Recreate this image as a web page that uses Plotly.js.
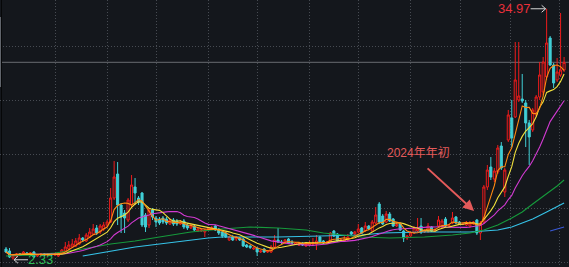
<!DOCTYPE html>
<html><head><meta charset="utf-8">
<script src="https://cdn.plot.ly/plotly-3.0.1.min.js"></script>
<style>html,body{margin:0;padding:0;background:#14171c;}#chart{width:569px;height:267px;}</style>
</head><body><div id="chart"></div>
<script>
const openP = [3.73,3.47,2.56,2.82,3.08,3.08,3.21,3.08,3.34,2.82,2.95,3.08,2.95,3.08,2.95,2.82,3.21,3.47,3.73,3.99,
4.12,4.38,5.16,4.77,5.29,5.68,6.46,5.94,6.33,6.85,7.24,10.36,13.48,9.45,8.41,7.50,9.45,11.79,10.36,11.01,
8.15,6.85,8.80,7.76,7.63,7.76,7.63,6.98,7.50,7.37,6.98,7.37,6.85,6.46,6.72,6.07,6.07,5.94,6.33,6.33,
6.72,6.33,5.94,5.81,4.90,5.29,5.03,5.16,5.03,4.25,4.12,3.73,3.86,3.34,3.73,3.34,3.34,3.99,4.90,4.64,
4.51,5.03,4.64,4.38,4.25,4.51,4.12,4.25,4.38,4.38,5.29,4.77,4.51,4.64,6.07,5.68,4.77,4.77,4.90,5.94,
5.68,5.94,6.46,6.07,6.72,6.07,7.11,9.58,8.02,7.24,8.28,7.63,6.72,6.98,6.07,5.16,5.42,5.81,6.07,6.72,
5.94,6.07,6.59,6.07,6.72,6.59,7.63,6.72,7.11,7.89,7.24,6.91,6.85,6.72,6.98,7.50,5.81,7.24,11.79,14.39,
12.83,13.74,17.12,11.14,17.90,20.77,20.90,23.11,23.24,22.72,20.12,19.21,21.16,23.50,24.15,26.10,31.17,27.66,25.71,26.36,
27.01];
const highP = [3.99,3.86,3.08,3.21,3.21,3.47,3.34,3.34,3.47,3.08,3.21,3.21,3.21,3.21,3.21,3.21,3.73,4.64,4.77,5.03,
5.16,5.68,5.29,5.81,6.46,6.98,6.85,6.98,7.24,7.50,11.66,15.17,15.04,9.71,8.80,10.36,13.35,12.96,10.62,11.14,
8.41,9.06,9.06,8.02,7.89,8.02,7.89,7.76,7.76,7.63,7.50,7.63,7.11,6.98,6.98,6.46,6.33,6.33,6.59,6.72,
6.85,6.46,6.07,5.94,5.42,5.55,5.42,5.29,5.16,4.38,4.25,3.99,3.99,3.60,3.86,3.60,4.25,5.55,6.46,4.90,
5.03,5.16,4.90,4.64,4.64,4.64,4.51,4.77,5.16,5.55,5.42,4.90,4.77,5.94,6.20,5.81,5.03,5.42,5.68,6.07,
6.07,6.98,6.59,7.24,6.85,7.50,9.19,9.84,8.28,8.67,8.54,7.76,7.11,7.11,6.20,5.55,6.07,6.72,7.76,7.76,
6.33,7.11,6.72,6.46,8.02,7.63,7.89,6.98,8.54,8.02,7.37,7.11,7.37,7.37,7.37,7.63,7.37,12.05,14.65,15.69,
14.26,17.25,17.64,14.26,21.81,23.11,30.65,30.65,26.49,23.11,20.51,22.07,23.76,28.05,28.70,34.97,31.43,27.92,28.57,34.42,
28.70];
const lowP = [3.21,2.56,2.33,2.69,2.82,2.95,2.95,2.95,2.56,2.69,2.82,2.82,2.82,2.82,2.82,2.69,3.08,3.34,3.60,3.86,
3.99,4.25,4.64,4.64,5.16,5.55,5.55,5.68,6.07,6.59,7.11,10.10,6.85,5.81,5.81,7.24,9.19,9.45,9.45,6.59,
5.94,6.46,7.50,6.59,6.85,6.98,6.85,6.85,6.72,6.72,6.85,6.33,6.20,6.33,6.07,5.94,5.94,5.29,6.20,6.20,
6.07,5.55,5.16,5.16,4.77,4.77,4.77,4.77,3.99,3.86,3.73,3.60,2.82,3.21,3.21,3.21,3.21,3.86,4.51,4.38,
4.38,4.38,4.38,4.25,4.12,4.12,3.99,4.12,4.25,3.60,4.51,4.38,4.38,4.51,5.29,4.64,4.64,4.64,4.77,5.55,
5.55,5.81,5.68,5.94,6.20,5.94,6.98,6.98,6.85,7.11,7.24,6.59,6.59,6.07,4.64,4.90,5.29,5.68,5.94,5.68,
5.81,5.81,5.94,5.94,6.59,6.46,6.59,6.59,6.98,6.98,6.85,6.85,6.72,6.46,6.85,5.55,4.90,6.98,11.40,12.70,
12.44,13.48,14.00,10.49,17.64,16.99,20.77,22.85,22.72,16.99,14.65,18.95,20.90,23.11,23.76,25.71,27.53,24.67,25.45,26.10,
26.75];
const closeP = [3.34,2.69,2.95,3.08,2.95,3.34,3.08,3.21,2.69,2.95,3.08,2.95,3.08,2.95,3.08,3.08,3.60,3.99,4.25,4.38,
4.77,5.16,4.90,5.55,5.94,6.33,5.81,6.72,6.85,7.24,10.36,13.09,9.45,7.89,7.76,10.10,12.05,11.01,9.84,6.85,
6.59,8.80,7.89,7.24,7.11,7.24,7.11,7.50,6.98,6.98,7.24,6.59,6.46,6.72,6.20,6.33,6.20,6.20,6.39,6.46,
6.20,5.81,5.42,5.29,5.29,4.90,5.29,4.90,4.12,3.99,3.93,3.86,3.34,3.47,3.34,3.47,3.99,4.90,4.64,4.58,
4.90,4.51,4.51,4.51,4.51,4.25,4.38,4.51,4.51,4.77,4.64,4.51,4.64,5.81,5.42,4.77,4.90,5.03,5.29,5.68,
5.94,6.33,5.81,6.72,6.33,7.24,8.15,7.24,6.98,8.28,7.37,6.72,6.91,6.20,5.16,5.42,5.81,6.46,6.33,5.94,
6.20,6.72,6.07,6.20,7.50,7.37,6.72,6.85,7.76,7.11,6.98,6.98,7.11,7.11,7.24,5.81,7.11,11.79,14.00,13.09,
13.87,16.86,14.26,14.00,21.16,18.17,25.71,23.63,22.98,20.12,18.30,21.81,23.50,26.36,28.05,30.52,27.66,25.32,26.75,27.01,
28.00];

const ma60Idx = [0,8,14,22,30,37,44,53,62,70,78,86,91,96,102,110,120,128,133,137,141,145,148,151,155,158,160];
const ma60Val = [2.82,2.95,3.21,3.73,4.38,4.77,5.29,5.94,6.33,6.59,6.46,6.20,5.81,5.55,5.29,5.16,5.29,5.55,5.81,6.20,6.85,7.76,8.54,9.58,10.88,11.92,12.70];
const ma120Idx = [22,30,37,44,53,58,62,78,90,102,108,120,133,137,141,145,148,151,155,158,160];
const ma120Val = [2.82,3.47,3.99,4.38,4.90,5.16,5.29,5.29,5.42,5.55,5.81,5.94,5.94,6.07,6.20,6.59,7.11,7.63,8.54,9.19,9.71];
const ma250Idx = [156,158,160];
const ma250Val = [6.07,6.33,6.59];

const gridIdx = [14.1,29,43.1,58,72,87,101.1,115.9,130.2,144.5,158.8];
const gridPrice0 = 2, gridPriceStep = 7;
const noteText = '2024年年初';
const noteIdx = 108.9, notePrice = 16.21;
const noteArrowIdx = 134.2, noteArrowPrice = 8.67;

const BG = '#14171c';
const GRID = '#474b52';
const RED = '#ee1c1c';
const CYAN = '#40cfd6';

const idx = closeP.map((_, i) => i);
function movingAverage(vals, n) {
  return vals.map((_, i) => {
    const s = Math.max(0, i - n + 1);
    let sum = 0;
    for (let k = s; k <= i; k++) sum += vals[k];
    return sum / (i - s + 1);
  });
}

let maxIdx = 0, minIdx = 0;
highP.forEach((v, i) => { if (v > highP[maxIdx]) maxIdx = i; });
lowP.forEach((v, i) => { if (v < lowP[minIdx]) minIdx = i; });
const lastClose = closeP[closeP.length - 1];

function line(x, y, color, w) {
  return {type: 'scatter', mode: 'lines', x: x, y: y, line: {color: color, width: w || 1.1}, hoverinfo: 'skip'};
}

const traces = [
  {
    type: 'candlestick', x: idx, open: openP, high: highP, low: lowP, close: closeP,
    increasing: {line: {color: RED, width: 1}, fillcolor: BG},
    decreasing: {line: {color: CYAN, width: 1}, fillcolor: CYAN},
    whiskerwidth: 0, hoverinfo: 'skip'
  },
  line(ma120Idx, ma120Val, '#36c3e8'),
  line(ma60Idx, ma60Val, '#169a3c'),
  line(ma250Idx, ma250Val, '#3a5ad8'),
  line(idx, movingAverage(closeP, 20), '#d23ad2'),
  line(idx, movingAverage(closeP, 10), '#f2e23c'),
  line(idx, movingAverage(closeP, 5), '#ff8a12')
];

const NUMFONT = '"Liberation Sans", Arial, sans-serif';

const layout = {
  width: 569, height: 267,
  margin: {l: 0, r: 0, t: 0, b: 0, pad: 0},
  paper_bgcolor: BG, plot_bgcolor: BG,
  showlegend: false, hovermode: false, boxgap: 0.15,
  xaxis: {
    range: [-1.72, 161.41], tickmode: 'array', tickvals: gridIdx, showticklabels: false, ticks: '',
    showgrid: true, gridcolor: GRID, griddash: '1px,2px', gridwidth: 1,
    zeroline: false, showline: false, rangeslider: {visible: false}, fixedrange: true
  },
  yaxis: {
    range: [1.388, 36.11], tickmode: 'linear', tick0: gridPrice0, dtick: gridPriceStep,
    showticklabels: false, ticks: '', showgrid: true, gridcolor: GRID, griddash: '1px,2px', gridwidth: 1,
    zeroline: false, showline: false, fixedrange: true
  },
  shapes: [
    {type: 'line', xref: 'paper', x0: 0, x1: 1, yref: 'y', y0: lastClose, y1: lastClose,
     line: {color: '#575a5f', width: 1.2}, layer: 'below'},
    {type: 'rect', xref: 'paper', yref: 'paper', x0: 1/569, x1: 2/569, y0: 0, y1: 1,
     fillcolor: '#060708', line: {width: 0}},
    {type: 'rect', xref: 'paper', yref: 'paper', x0: 0, x1: 1/569, y0: 1 - 87/267, y1: 1 - 17/267,
     fillcolor: '#60646b', line: {width: 0}},
    {type: 'path', xref: 'x', yref: 'y', xsizemode: 'pixel', ysizemode: 'pixel',
     xanchor: maxIdx, yanchor: highP[maxIdx],
     path: 'M-16,0 L-1,0 M-5,3.5 L-1,0 L-5,-3.5', line: {color: '#d6d6d6', width: 1}},
    {type: 'path', xref: 'x', yref: 'y', xsizemode: 'pixel', ysizemode: 'pixel',
     xanchor: minIdx, yanchor: lowP[minIdx],
     path: 'M15,0 L1,0 M5,3.5 L1,0 L5,-3.5', line: {color: '#d6d6d6', width: 1}}
  ],
  annotations: [
    {x: maxIdx, y: highP[maxIdx], xref: 'x', yref: 'y', text: highP[maxIdx].toFixed(2),
     showarrow: false, xanchor: 'right', yanchor: 'middle', xshift: -15, borderpad: 0,
     font: {family: NUMFONT, size: 13, color: '#e8303a'}},
    {x: minIdx, y: lowP[minIdx], xref: 'x', yref: 'y', text: lowP[minIdx].toFixed(2),
     showarrow: false, xanchor: 'left', yanchor: 'middle', xshift: 14, borderpad: 0,
     font: {family: NUMFONT, size: 13, color: '#2cbd55'}},
    {x: noteIdx, y: notePrice, xref: 'x', yref: 'y', text: noteText,
     showarrow: false, xanchor: 'left', yanchor: 'middle', borderpad: 0,
     font: {family: '"Liberation Sans", "Noto Sans CJK SC", sans-serif', size: 12, color: '#e45a5a'}},
    {x: noteArrowIdx, y: noteArrowPrice, xref: 'x', yref: 'y', text: '',
     showarrow: true, ax: -48, ay: -44, arrowhead: 2, arrowsize: 1.1, arrowwidth: 2,
     arrowcolor: '#e45a5a', standoff: 0}
  ]
};

Plotly.newPlot('chart', traces, layout, {displayModeBar: false, staticPlot: true});
</script>
</body></html>
